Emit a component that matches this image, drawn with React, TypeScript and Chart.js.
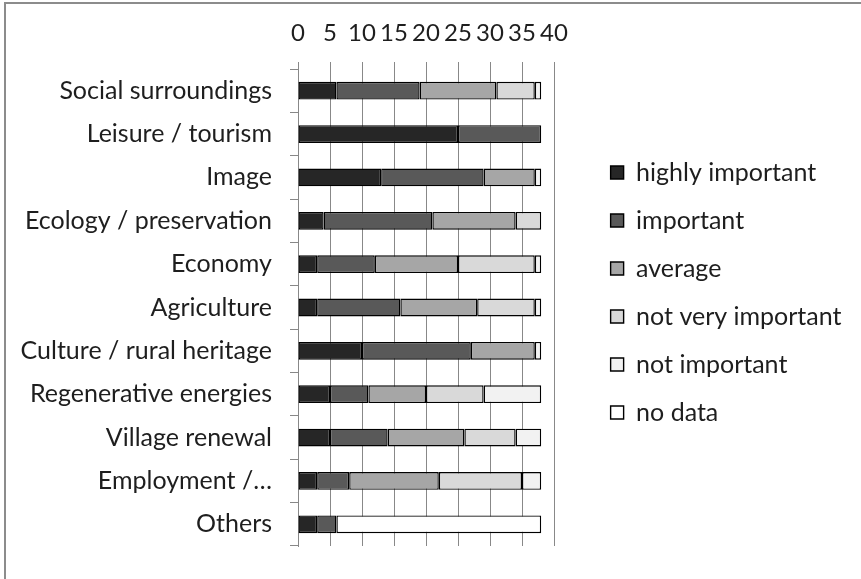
import React, { useEffect, useRef } from "react";
import { Chart, registerables } from "chart.js";

Chart.register(...registerables);

const categories = [
  "Social surroundings",
  "Leisure / tourism",
  "Image",
  "Ecology / preservation",
  "Economy",
  "Agriculture",
  "Culture / rural heritage",
  "Regenerative energies",
  "Village renewal",
  "Employment /…",
  "Others",
];
const highlyImportant = [6, 25, 13, 4, 3, 3, 10, 5, 5, 3, 3];
const important = [13, 13, 16, 17, 9, 13, 17, 6, 9, 5, 3];
const average = [12, 0, 8, 13, 13, 12, 10, 9, 12, 14, 0];
const notVeryImportant = [6, 0, 0, 4, 12, 9, 0, 9, 8, 13, 0];
const notImportant = [1, 0, 1, 0, 1, 1, 1, 9, 4, 3, 0];
const noData = [0, 0, 0, 0, 0, 0, 0, 0, 0, 0, 32];

const seriesNames = [
  "highly important",
  "important",
  "average",
  "not very important",
  "not important",
  "no data",
];
const seriesValues = [highlyImportant, important, average, notVeryImportant, notImportant, noData];
const seriesColors = ["#262626", "#595959", "#a6a6a6", "#d9d9d9", "#f2f2f2", "#ffffff"];

const xMin = 0;
const xMax = 40;
const xStep = 5;

const FONT = "Lato";
const TEXT = "#1e1e1e";
const GRID = "#888888";
const PAD_RIGHT = 9.5;
const PLOT_RIGHT = 554;

export default function App() {
  const ref = useRef<HTMLCanvasElement | null>(null);

  useEffect(() => {
    const canvas = ref.current;
    if (!canvas) return;
    const chart = new Chart(canvas, {
      type: "bar",
      data: {
        labels: categories,
        datasets: seriesNames.map((name, i) => ({
          label: name,
          data: seriesValues[i].map((v) => (v === 0 ? null : v)),
          backgroundColor: seriesColors[i],
          borderColor: "#000000",
          borderWidth: 1.4,
          borderSkipped: false,
          barPercentage: 0.41,
          categoryPercentage: 1,
          xAxisID: "x",
          yAxisID: "y",
        })),
      },
      options: {
        indexAxis: "y",
        responsive: false,
        animation: false,
        layout: { padding: { top: 6, left: 0, right: PAD_RIGHT, bottom: 0 } },
        plugins: {
          tooltip: { enabled: false },
          legend: {
            position: "right",
            align: "center",
            maxWidth: 1000,
            labels: {
              boxWidth: 13,
              boxHeight: 13,
              padding: 23,
              color: TEXT,
              font: { family: FONT, size: 25 },
            },
          },
        },
        scales: {
          x: {
            type: "linear",
            position: "top",
            stacked: true,
            min: xMin,
            max: xMax,
            ticks: {
              stepSize: xStep,
              autoSkip: false,
              maxRotation: 0,
              padding: 14,
              color: TEXT,
              font: { family: FONT, size: 24 },
            },
            grid: { color: GRID, lineWidth: 1, tickLength: 7, drawTicks: true },
            border: { display: false },
            afterFit: (s: any) => {
              s.height = 63;
            },
          },
          y: {
            type: "category",
            stacked: true,
            ticks: {
              autoSkip: false,
              padding: 18,
              color: TEXT,
              font: { family: FONT, size: 25 },
            },
            grid: { drawOnChartArea: false, drawTicks: true, tickLength: 8, color: GRID, offset: true },
            border: { display: true, color: GRID, width: 1 },
            afterFit: (s: any) => {
              s.width = 298;
            },
          },
          padRight: {
            type: "linear",
            position: "right",
            display: true,
            ticks: { display: false },
            grid: { display: false },
            border: { display: false },
            afterFit: (s: any) => {
              const lw = s.chart.legend ? s.chart.legend.width : 0;
              s.width = Math.max(0, s.chart.width - PAD_RIGHT - lw - PLOT_RIGHT);
            },
          },
          padBottom: {
            type: "linear",
            position: "bottom",
            display: true,
            ticks: { display: false },
            grid: { display: false },
            border: { display: false },
            afterFit: (s: any) => {
              s.height = 28;
            },
          },
        },
      } as any,
    });
    return () => chart.destroy();
  }, []);

  return (
    <div
      style={{
        position: "absolute",
        left: 0,
        top: 0,
        width: 861,
        height: 579,
        overflow: "hidden",
        background: "#ffffff",
      }}
    >
      <div
        style={{
          position: "absolute",
          left: 4,
          top: 2,
          width: 900,
          height: 620,
          borderLeft: "2px solid #8c8c8c",
          borderTop: "2px solid #8c8c8c",
        }}
      />
      <canvas ref={ref} width={861} height={579} style={{ position: "absolute", left: 0, top: 0 }} />
    </div>
  );
}
